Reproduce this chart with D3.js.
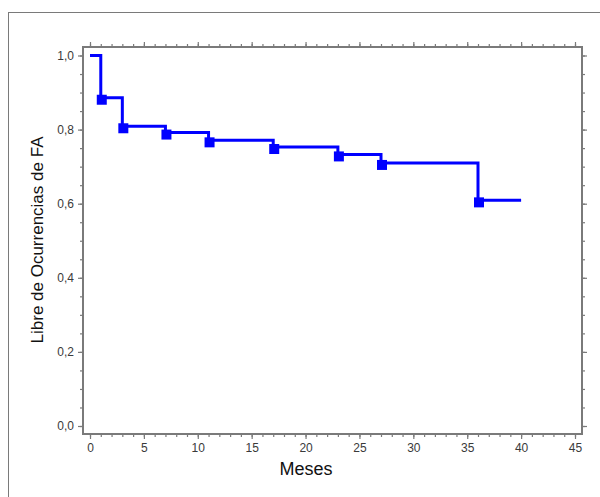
<!DOCTYPE html>
<html>
<head>
<meta charset="utf-8">
<script src="https://cdn.jsdelivr.net/npm/d3@7"></script>
<style>
  html, body { margin: 0; padding: 0; background: #fff; }
  svg { display: block; font-family: "Liberation Sans", Arial, sans-serif; }
</style>
</head>
<body>
<div id="chart"></div>
<script>
// --- Data (Kaplan-Meier style step curve) ---
const months = [0, 1, 3, 7, 11, 17, 23, 27, 36, 40];
const survival = [1.0, 0.886, 0.809, 0.792, 0.771, 0.753, 0.733, 0.710, 0.609, 0.609];
const eventMonths = [1, 3, 7, 11, 17, 23, 27, 36];
const eventSurvival = [0.886, 0.809, 0.792, 0.771, 0.753, 0.733, 0.710, 0.609];
const xMajorTicks = [0, 5, 10, 15, 20, 25, 30, 35, 40, 45];
const yMajorTicks = [0, 0.2, 0.4, 0.6, 0.8, 1.0];

const width = 600, height = 497;
const plot = { left: 83, right: 582, top: 47, bottom: 434 };

const svg = d3.select('#chart').append('svg')
  .attr('width', width)
  .attr('height', height);

// outer frame (runs off the right and bottom edges)
svg.append('rect')
  .attr('x', 8.5).attr('y', 12.5)
  .attr('width', 700).attr('height', 600)
  .attr('fill', 'none')
  .attr('stroke', '#7a7a7a')
  .attr('stroke-width', 1);

// --- Scales ---
const x = d3.scaleLinear().domain([0, 45]).range([90, 575]);
const y = d3.scaleLinear().domain([0, 1]).range([426, 55.5]);

const comma = d3.formatLocale({ decimal: ',', thousands: '.', grouping: [3], currency: ['', ''] }).format('.1f');

const xMinor = d3.range(0, 46, 1);
const yMinor = d3.range(0, 1.0001, 0.05);

function styleAxis(g) {
  g.select('.domain').remove();
  g.selectAll('.tick line').attr('stroke', '#7a7a7a').attr('stroke-width', 1.2);
  g.selectAll('.tick text')
    .attr('fill', '#3a3a3a')
    .attr('font-size', 12)
    .attr('font-family', '"Liberation Sans", Arial, sans-serif');
}

// --- Axes: minor ticks ---
svg.append('g').attr('transform', `translate(0,${plot.bottom})`)
  .call(d3.axisBottom(x).tickValues(xMinor).tickSize(3).tickFormat(''))
  .call(styleAxis);
svg.append('g').attr('transform', `translate(0,${plot.top})`)
  .call(d3.axisTop(x).tickValues(xMinor).tickSize(3).tickFormat(''))
  .call(styleAxis);
svg.append('g').attr('transform', `translate(${plot.left},0)`)
  .call(d3.axisLeft(y).tickValues(yMinor).tickSize(3).tickFormat(''))
  .call(styleAxis);
svg.append('g').attr('transform', `translate(${plot.right},0)`)
  .call(d3.axisRight(y).tickValues(yMinor).tickSize(3).tickFormat(''))
  .call(styleAxis);

// --- Axes: major ticks with labels ---
svg.append('g').attr('transform', `translate(0,${plot.bottom})`)
  .call(d3.axisBottom(x).tickValues(xMajorTicks).tickSize(5).tickPadding(4).tickFormat(d3.format('d')))
  .call(styleAxis);
svg.append('g').attr('transform', `translate(0,${plot.top})`)
  .call(d3.axisTop(x).tickValues(xMajorTicks).tickSize(5).tickFormat(''))
  .call(styleAxis);
svg.append('g').attr('transform', `translate(${plot.left},0)`)
  .call(d3.axisLeft(y).tickValues(yMajorTicks).tickSize(5).tickPadding(4).tickFormat(comma))
  .call(styleAxis);
svg.append('g').attr('transform', `translate(${plot.right},0)`)
  .call(d3.axisRight(y).tickValues(yMajorTicks).tickSize(5).tickFormat(''))
  .call(styleAxis);

// plot box
svg.append('rect')
  .attr('x', plot.left).attr('y', plot.top)
  .attr('width', plot.right - plot.left)
  .attr('height', plot.bottom - plot.top)
  .attr('fill', 'none')
  .attr('stroke', '#7a7a7a')
  .attr('stroke-width', 2);

// --- Step line ---
const pts = months.map((m, i) => [m, survival[i]]);
const line = d3.line()
  .x(d => x(d[0]))
  .y(d => y(d[1]))
  .curve(d3.curveStepAfter);

svg.append('path')
  .datum(pts)
  .attr('d', line)
  .attr('fill', 'none')
  .attr('stroke', '#0000ff')
  .attr('stroke-width', 3);

// --- Event markers ---
const ms = 10;
svg.selectAll('.marker')
  .data(eventMonths.map((m, i) => [m, eventSurvival[i]]))
  .enter()
  .append('rect')
  .attr('class', 'marker')
  .attr('x', d => x(d[0]) + 1 - ms / 2)
  .attr('y', d => y(d[1]) + 2 - ms / 2)
  .attr('width', ms)
  .attr('height', ms)
  .attr('fill', '#0000ff');

// --- Axis titles ---
svg.append('text')
  .attr('x', 306)
  .attr('y', 475)
  .attr('text-anchor', 'middle')
  .attr('font-size', 18)
  .attr('fill', '#111')
  .text('Meses');

svg.append('text')
  .attr('transform', 'translate(43,240) rotate(-90)')
  .attr('text-anchor', 'middle')
  .attr('font-size', 17)
  .attr('fill', '#111')
  .text('Libre de Ocurrencias de FA');
</script>
</body>
</html>
